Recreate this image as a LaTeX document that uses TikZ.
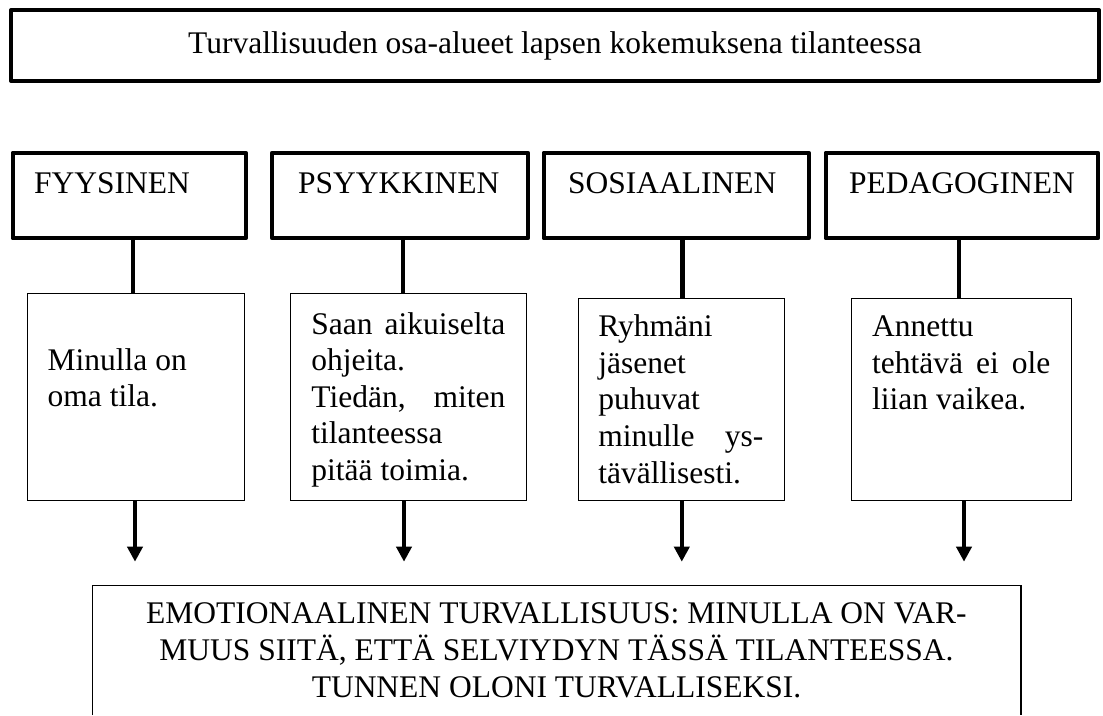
\documentclass[tikz,border=0pt]{standalone}
\usepackage{fontspec}
\setmainfont{Liberation Serif}
\usetikzlibrary{arrows.meta}
\begin{document}
\begin{tikzpicture}[x=1pt,y=-1pt,
  font=\fontsize{31.5}{36.6}\selectfont,
  thickbox/.style={draw, line width=4pt, line join=round, inner sep=0pt},
  thinbox/.style={draw, line width=1.2pt, inner sep=0pt},
  link/.style={line width=4.2pt},
  arrowlink/.style={line width=3.8pt, -{Triangle[length=15pt,width=15pt]}},
  txt/.style={inner sep=0pt, anchor=base west},
  ctxt/.style={inner sep=0pt, anchor=base},
  thinline/.style={line width=1.2pt}]
\useasboundingbox (0,0) rectangle (1103,715);
\fill[white] (0,0) rectangle (1103,715);

% title
\node[thickbox, minimum width=1088pt, minimum height=71pt] (title) at (555,45.5)
  {Turvallisuuden osa-alueet lapsen kokemuksena tilanteessa};

% header boxes
\node[thickbox, minimum width=233.2pt, minimum height=85.5pt] (fy) at (129.1,195.5) {};
\node[thickbox, minimum width=256pt,   minimum height=85.5pt] (ps) at (400,195.5) {};
\node[thickbox, minimum width=265pt,   minimum height=85.5pt] (so) at (676.1,195.5) {};
\node[thickbox, minimum width=272.5pt, minimum height=85.5pt] (pe) at (961.75,195.5) {};
\node[txt] (fy-t) at (34,193) {FYYSINEN};
\node[txt] (ps-t) at (298,193) {PSYYKKINEN};
\node[txt] (so-t) at (568,193) {SOSIAALINEN};
\node[txt] (pe-t) at (849,193) {PEDAGOGINEN};

% content boxes
\node[thinbox, minimum width=216.8pt, minimum height=207pt] (c1) at (135.9,397.2) {};
\node[thinbox, minimum width=236.1pt, minimum height=207pt] (c2) at (408.75,397.2) {};
\node[thinbox, minimum width=206.1pt, minimum height=202pt] (c3) at (681.45,399.7) {};
\node[thinbox, minimum width=220.1pt, minimum height=202pt] (c4) at (961.75,399.7) {};

\node[txt] (c1-t) at (47.5,370) {\parbox[t]{190pt}{\raggedright Minulla on\\oma tila.}};
\node[txt] (c2-t) at (311.2,334) {\parbox[t]{194pt}{\raggedright
  \makebox[194pt][s]{Saan aikuiselta}\\ohjeita.\\
  \makebox[194pt][s]{Tiedän, miten}\\tilanteessa\\pitää toimia.}};
\node[txt] (c3-t) at (598.2,336.7) {\parbox[t]{165pt}{\raggedright
  Ryhmäni\\jäsenet\\puhuvat\\\makebox[165pt][s]{minulle ys-}\\tävällisesti.}};
\node[txt] (c4-t) at (872,336.7) {\parbox[t]{178pt}{\raggedright
  Annettu\\\makebox[178pt][s]{tehtävä ei ole}\\liian vaikea.}};

% connectors header -> content
\draw[link] ([xshift=3.9pt]fy.south) -- ([xshift=3.9pt]fy.south |- c1.north);
\draw[link] ([xshift=3pt]ps.south) -- ([xshift=3pt]ps.south |- c2.north);
\draw[link] ([xshift=6.4pt]so.south) -- ([xshift=6.4pt]so.south |- c3.north);
\draw[link] ([xshift=-2.75pt]pe.south) -- ([xshift=-2.75pt]pe.south |- c4.north);

% bottom box
\node[inner sep=0pt, minimum width=928.4pt, minimum height=129.3pt] (emo) at (556.5,650.35) {};
\draw[thinline] (emo.south west) -- (emo.north west) -- (emo.north east) -- (emo.south east);
\node[ctxt] (emo-1) at (556.5,623.5) {EMOTIONAALINEN TURVALLISUUS: MINULLA ON VAR-};
\node[ctxt] (emo-2) at (556.5,660.2) {MUUS SIITÄ, ETTÄ SELVIYDYN TÄSSÄ TILANTEESSA.};
\node[ctxt] (emo-3) at (556.5,697) {TUNNEN OLONI TURVALLISEKSI.};

% arrows content -> bottom
\coordinate (tip1) at (135,561.7);
\coordinate (tip2) at (404,561.7);
\coordinate (tip3) at (681.8,561.7);
\coordinate (tip4) at (964,561.7);
\draw[arrowlink] (c1.south -| tip1) -- (tip1);
\draw[arrowlink] (c2.south -| tip2) -- (tip2);
\draw[arrowlink] (c3.south -| tip3) -- (tip3);
\draw[arrowlink] (c4.south -| tip4) -- (tip4);
\end{tikzpicture}
\end{document}
